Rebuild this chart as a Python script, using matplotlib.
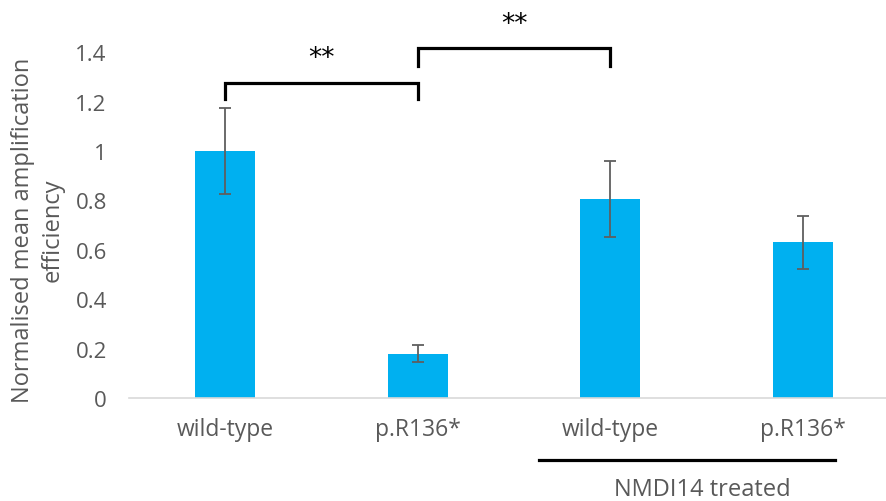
"""Bar chart of normalised mean amplification efficiency, wild-type vs p.R136*,
with and without NMDI14 treatment, plus significance brackets."""

import matplotlib

matplotlib.use("Agg")
import matplotlib.pyplot as plt
import numpy as np

CATEGORIES = ["wild-type", "p.R136*", "wild-type", "p.R136*"]
MEANS = [1.0, 0.18, 0.805, 0.63]
ERRORS = [0.174, 0.034, 0.155, 0.107]
Y_TICKS = [0, 0.2, 0.4, 0.6, 0.8, 1.0, 1.2, 1.4]
Y_TICK_LABELS = ["0", "0.2", "0.4", "0.6", "0.8", "1", "1.2", "1.4"]
# (left bar, right bar, bracket top, leg bottom, label)
BRACKETS = [(0, 1, 1.276, 1.209, "**"), (1, 2, 1.416, 1.345, "**")]
GROUP_LABEL = "NMDI14 treated"

BAR_COLOR = "#00B0F0"
TEXT_COLOR = "#595959"
plt.rcParams["font.family"] = ["Open Sans", "DejaVu Sans"]

W, H = 886, 502
fig = plt.figure(figsize=(W / 100, H / 100), dpi=100)
# plot area in pixels: x 129..899, y zero at 399
ax = fig.add_axes([129 / W, (H - 399) / H, 770 / W, 395 / H])
ax.set_xlim(-0.5, 3.5)
ax.set_ylim(0, 395 / 247)

x = np.arange(len(CATEGORIES))
ax.bar(x, MEANS, width=0.31, color=BAR_COLOR, zorder=2)
ax.errorbar(x, MEANS, yerr=ERRORS, fmt="none", ecolor="#5f5f5f", elinewidth=1.3,
            capsize=4.5, capthick=1.3, zorder=3)

ax.set_yticks(Y_TICKS)
ax.set_yticklabels(Y_TICK_LABELS)
ax.set_xticks(x)
ax.set_xticklabels(CATEGORIES)
ax.tick_params(axis="y", length=0, pad=16, labelsize=16, labelcolor=TEXT_COLOR)
ax.tick_params(axis="x", length=0, pad=14, labelsize=16.5, labelcolor=TEXT_COLOR)
for side in ["top", "right", "left"]:
    ax.spines[side].set_visible(False)
ax.spines["bottom"].set_color("#d9d9d9")
ax.spines["bottom"].set_linewidth(1.2)

for x0, x1, top, bottom, label in BRACKETS:
    ax.plot([x0, x0, x1, x1], [bottom, top, top, bottom], color="black",
            lw=2.3, solid_joinstyle="miter", clip_on=False, zorder=4)
    ax.text((x0 + x1) / 2, top + 0.1, label, ha="center", va="center",
            fontsize=19, family="DejaVu Sans", color="black")

# NMDI14 treated group line and label
ax.plot([1.63, 3.17], [-0.251, -0.251], color="black", lw=2.3, clip_on=False)
ax.text(2.48, -0.368, GROUP_LABEL, ha="center", va="center", fontsize=17,
        color=TEXT_COLOR, clip_on=False)

fig.text(38 / W, (H - 230) / H, "Normalised mean amplification\nefficiency",
         rotation=90, ha="center", va="center", multialignment="center",
         fontsize=17, color=TEXT_COLOR, linespacing=1.3)

fig.savefig("out.png", dpi=100)
